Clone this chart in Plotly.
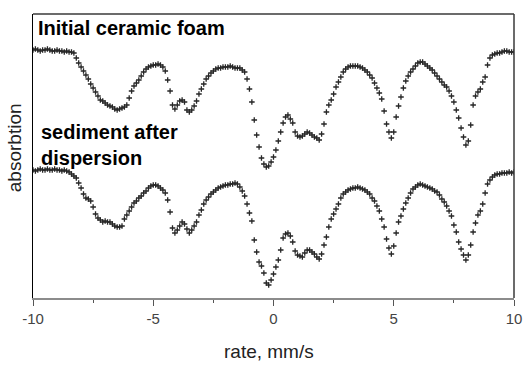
import plotly.graph_objects as go

# Velocity channels (mm/s), one reading every 0.1 mm/s from -10 to 10
velocity_start = -10.0
velocity_step = 0.1

# Absorption (arbitrary units, larger = more absorption = lower on plot)
absorption_initial = [
    50, 49, 50, 51, 50, 50, 49, 50, 51, 51, 50, 51, 51, 52, 51, 52, 52,
    53, 58, 63, 67,
    71, 75, 79, 84, 88, 92, 96, 100, 101, 103,
    105, 106, 107, 109, 110, 109, 108, 107, 105, 98,
    91, 86, 83, 80, 76, 72, 69, 67, 66, 65,
    65, 64, 65, 67, 71, 80, 91, 105, 109, 105,
    101, 100, 102, 110, 112, 110, 106, 101, 94, 89,
    84, 79, 76, 73, 71, 69, 68, 68, 67, 67,
    67, 66, 67, 68, 68, 68, 70, 72, 79, 89,
    102, 120, 135, 147, 158, 164, 167, 166, 162, 157,
    150, 141, 132, 123, 117, 115, 119, 123, 132, 136,
    137, 136, 134, 132, 133, 135, 137, 138, 140, 134,
    124, 112, 105, 100, 94, 87, 82, 77, 72, 69,
    67, 66, 66, 66, 66, 67, 68, 70, 72, 75,
    78, 83, 88, 93, 99, 111, 124, 132, 138, 132,
    117, 106, 97, 88, 81, 76, 72, 69, 66, 63,
    62, 62, 64, 66, 68, 70, 73, 76, 79, 82,
    85, 87, 91, 96, 102, 110, 118, 128, 137, 145,
    141, 125, 105, 96, 92, 89, 82, 77, 65, 58,
    55, 54, 53, 53, 52, 51, 51, 52, 52, 52,
]

absorption_sediment = [
    170, 171, 170, 169, 170, 170, 169, 170, 170, 169, 170, 170, 171, 170, 171, 172,
    174, 176, 178, 183, 188,
    194, 198, 199, 201, 207, 214, 218, 220, 222, 221,
    222, 222, 224, 226, 227, 227, 226, 219, 215, 211,
    207, 203, 201, 198, 196, 193, 191, 188, 186, 185,
    185, 186, 188, 190, 193, 200, 212, 228, 233, 230,
    226, 222, 224, 229, 233, 230, 226, 222, 215, 210,
    204, 200, 197, 194, 192, 190, 188, 187, 186, 185,
    185, 184, 184, 183, 184, 187, 191, 196, 204, 213,
    221, 240, 252, 262, 266, 273, 283, 285, 280, 274,
    267, 260, 250, 238, 234, 233, 236, 242, 251, 255,
    256, 257, 253, 250, 250, 252, 254, 257, 259, 254,
    245, 237, 227, 219, 214, 209, 204, 198, 194, 192,
    190, 189, 188, 188, 187, 188, 189, 190, 192, 194,
    198, 201, 206, 211, 219, 227, 239, 248, 254, 246,
    233, 222, 216, 209, 203, 198, 193, 189, 187, 185,
    184, 185, 186, 187, 188, 189, 191, 192, 195, 199,
    202, 206, 211, 216, 225, 232, 242, 249, 255, 260,
    255, 245, 232, 223, 215, 211, 204, 193, 184, 180,
    177, 175, 174, 174, 173, 173, 173, 172, 173, 172,
]

x_tick_values = [-10, -5, 0, 5, 10]
x_tick_labels = ["-10", "-5", "0", "5", "10"]

series_names = ["Initial ceramic foam", "sediment after<br>dispersion"]

velocity = [round(velocity_start + velocity_step * i, 2) for i in range(len(absorption_initial))]

FONT = "Arial, Liberation Sans, sans-serif"
MARK = "#262626"

fig = go.Figure()
for ys in (absorption_initial, absorption_sediment):
    fig.add_trace(go.Scatter(
        x=velocity, y=ys, mode="markers",
        marker=dict(symbol="cross-thin", size=4, color=MARK,
                    line=dict(width=1.3, color=MARK)),
        showlegend=False, hoverinfo="skip",
    ))

fig.update_layout(
    width=526, height=368,
    margin=dict(l=33, r=12, t=14, b=70),
    paper_bgcolor="white", plot_bgcolor="white",
    font=dict(family=FONT, color="#333333"),
    xaxis=dict(
        range=[-10, 10], tickvals=x_tick_values, ticktext=x_tick_labels,
        automargin=False,
        showgrid=False, zeroline=False,
        showline=True, linecolor="#8c8c8c", linewidth=2,
        ticks="outside", ticklen=6, tickwidth=1, tickcolor="#555555",
        tickfont=dict(size=15, color="#444444", family=FONT),
        minor=dict(dtick=2.5, ticks="outside", ticklen=3, tickwidth=1, tickcolor="#555555"),
    ),
    yaxis=dict(
        range=[298, 14], showgrid=False, zeroline=False, automargin=False,
        showticklabels=False, ticks="",
        showline=True, linecolor="#000000", linewidth=1,
    ),
    shapes=[
        dict(type="line", xref="paper", yref="paper", x0=0, x1=1, y0=1, y1=1,
             line=dict(color="#3a3a3a", width=1.5)),
        dict(type="line", xref="paper", yref="paper", x0=1, x1=1, y0=0, y1=1,
             line=dict(color="#3a3a3a", width=1.5)),
    ],
    annotations=[
        dict(text="<b>" + series_names[0] + "</b>", xref="paper", yref="paper",
             x=0.006, y=0.95, xanchor="left", yanchor="middle", showarrow=False,
             font=dict(size=20, color="#000000", family=FONT)),
        dict(text="<b>" + series_names[1].replace("<br>", "</b><br><b>") + "</b>",
             xref="paper", yref="paper", align="left",
             x=0.012, y=0.54, xanchor="left", yanchor="middle", showarrow=False,
             font=dict(size=20, color="#000000", family=FONT)),
        dict(text="rate, mm/s", xref="paper", yref="paper", x=0.49, y=-0.19,
             xanchor="center", yanchor="middle", showarrow=False,
             font=dict(size=19, color="#222222", family=FONT)),
        dict(text="absorbtion", xref="paper", yref="paper", x=-0.038, y=0.53,
             xanchor="center", yanchor="middle", showarrow=False, textangle=-90,
             font=dict(size=19, color="#222222", family=FONT)),
    ],
)

fig.write_html("out.html", config={"displayModeBar": False},
               post_script="document.body.style.margin='0px';")
